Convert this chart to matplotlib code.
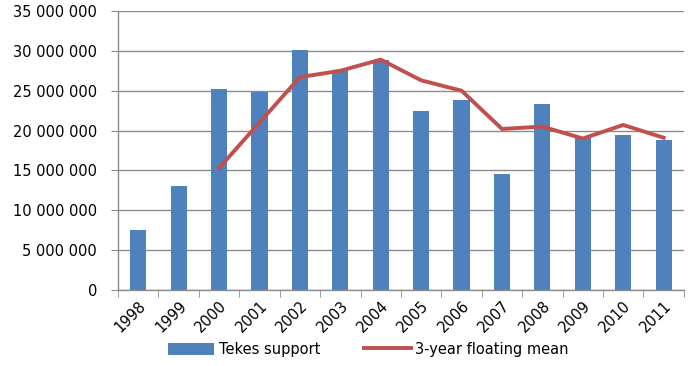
import numpy as np
import matplotlib
matplotlib.use("Agg")
import matplotlib.pyplot as plt
from matplotlib.ticker import FuncFormatter, FixedLocator

years = ["1998", "1999", "2000", "2001", "2002", "2003", "2004",
         "2005", "2006", "2007", "2008", "2009", "2010", "2011"]
tekes_support = [7.5e6, 13.0e6, 25.2e6, 24.8e6, 30.1e6, 27.6e6, 28.9e6,
                 22.4e6, 23.8e6, 14.5e6, 23.3e6, 19.1e6, 19.4e6, 18.8e6]
# 3-year floating mean starts at 2000
mean_years = years[2:]
floating_mean = [15.3e6, 21.0e6, 26.7e6, 27.5e6, 28.9e6, 26.3e6, 25.0e6,
                 20.2e6, 20.5e6, 19.0e6, 20.7e6, 19.1e6]

plt.rcParams['font.family'] = ['DejaVu Sans']

fig = plt.figure(figsize=(6.88, 3.66), dpi=100)
ax = fig.add_axes([0.1715, 0.2077, 0.8225, 0.7623])

x = np.arange(len(years))
xm = np.arange(2, len(years))
bars = ax.bar(x, tekes_support, width=0.4, color='#4F81BD', zorder=2, label='Tekes support')
line, = ax.plot(xm, floating_mean, color='#C0504D', linewidth=2.8, zorder=3,
                label='3-year floating mean')

ax.set_xlim(-0.5, len(years) - 0.5)
ax.set_ylim(0, 35e6)
ax.set_yticks(np.arange(0, 35e6 + 1, 5e6))
ax.yaxis.set_major_formatter(FuncFormatter(lambda v, p: f"{int(v):,}".replace(",", " ")))
ax.grid(axis='y', color='#8C8C8C', linewidth=1.0, zorder=0)

ax.set_xticks(x)
ax.set_xticklabels(years, rotation=45, ha='right', rotation_mode='anchor', fontsize=10.5)
ax.tick_params(axis='x', length=0, pad=6)
ax.xaxis.set_minor_locator(FixedLocator(np.arange(-0.5, len(years), 1.0)))
ax.tick_params(axis='x', which='minor', length=5, color='#8C8C8C', direction='out')
ax.tick_params(axis='y', length=5, color='#8C8C8C', labelsize=10.5, pad=10)

for s in ['top', 'right']:
    ax.spines[s].set_visible(False)
for s in ['left', 'bottom']:
    ax.spines[s].set_color('#8C8C8C')
    ax.spines[s].set_linewidth(1.0)

fig.legend(handles=[bars, line], loc='center', bbox_to_anchor=(0.535, 0.045), ncol=2,
           frameon=False, fontsize=10.5, handlelength=3.2, handleheight=0.9,
           columnspacing=3.0, handletextpad=0.3)

fig.savefig('out.png', dpi=100)
